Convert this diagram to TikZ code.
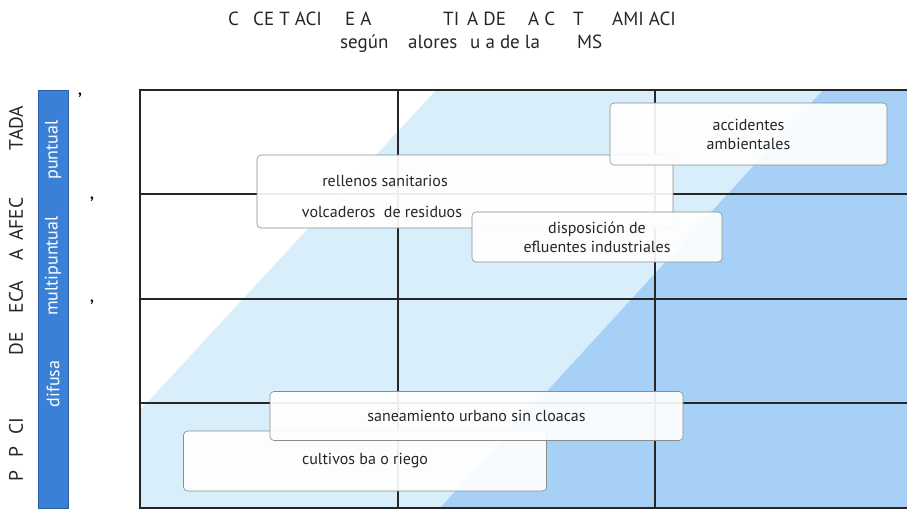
\documentclass[tikz,border=0pt]{standalone}
\usepackage{fontspec}
\setmainfont{PT Sans}
\usetikzlibrary{positioning}

\definecolor{celeste}{HTML}{D9EEFB}
\definecolor{azulclaro}{HTML}{A6D0F5}
\definecolor{azulbarra}{HTML}{3A80D6}
\definecolor{azulborde}{HTML}{2A5EA8}

\begin{document}
\begin{tikzpicture}[
    x=1pt, y=-1pt,
    font=\fontsize{16}{19}\selectfont,
    caja/.style={draw=black!45, fill=white, fill opacity=0.92, text opacity=1,
                 rounded corners=4pt, line width=0.6pt, inner sep=0pt,
                 align=center, text=black!85},
    txt/.style={anchor=base, inner sep=0pt, text=black!85},
    titulo/.style={font=\fontsize{19}{22}\selectfont, anchor=base west,
                   inner sep=0pt, text=black!85},
    eje/.style={font=\fontsize{19.5}{22}\selectfont, rotate=90, inner sep=0pt,
                text=black!85},
    tipo/.style={font=\fontsize{18}{20}\selectfont, rotate=90, text=white,
                 inner sep=0pt},
    marca/.style={font=\fontsize{22}{22}\selectfont, inner sep=0pt},
    rejilla/.style={line width=1.1pt, black!85}
  ]
  \useasboundingbox (0,0) rectangle (907,509);

  % --- Titulo ---
  \foreach \x/\s [count=\i] in {228/C, 253/CE T ACI, 345/E A, 443/TI,
                                467/A DE, 528/A C, 573/T, 612/AMI ACI}
    \node[titulo] (t\i) at (\x,25) {\s};
  \foreach \x/\s [count=\i] in {340/según, 408/alores, 470/u a de la, 577/MS}
    \node[titulo] (s\i) at (\x,48) {\s};

  % --- Fondo ---
  \begin{scope}
    \clip (140,90) rectangle (907,508);
    \fill[celeste] (140,90) rectangle (907,508);
    \fill[white] (140,90) -- (436,90) -- (140,410) -- cycle;
    \fill[azulclaro] (823,90) -- (907,90) -- (907,508) -- (440,508) -- cycle;
  \end{scope}

  % --- Rejilla ---
  \draw[rejilla] (907,90) -- (140,90) -- (140,508) -- (907,508);
  \foreach \y in {194,299,403}
    \draw[rejilla] (140,\y) -- (907,\y);
  \foreach \x in {398,655}
    \draw[rejilla] (\x,90) -- (\x,508);

  % --- Eje ---
  \foreach \y/\s [count=\i] in {476/P, 452/P, 426/CI, 344/DE, 297/ECA,
                                255/A, 219/AFEC, 128/TADA}
    \node[eje] (e\i) at (16,\y) {\s};
  \node[draw=azulborde, fill=azulbarra, minimum width=30pt,
        minimum height=418pt, inner sep=0pt] (barra) at (53,299) {};
  \node[tipo] (difusa) at (53,384) {difusa};
  \node[tipo] (multi) at (53,266) {multipuntual};
  \node[tipo] (puntual) at (53,150) {puntual};
  \node[marca] (m1) at (80,101) {’};
  \node[marca] (m2) at (92,205) {’};
  \node[marca] (m3) at (92,308) {’};

  % --- Fuentes ---
  \node[caja, minimum width=416pt, minimum height=73pt] (rellenos) at (465,191.5) {};
  \node[txt] (rs) at (385,186) {rellenos sanitarios};
  \node[txt] (vr) at (382,217) {volcaderos\ \ de residuos};
  \node[caja, minimum width=277pt, minimum height=62pt] (accid) at (748.5,134)
    {accidentes\\ambientales};
  \node[caja, minimum width=250pt, minimum height=50pt] (efluentes) at (597,237)
    {disposición de\\efluentes industriales};
  \node[caja, minimum width=363pt, minimum height=60pt] (cultivos) at (365,461)
    {cultivos ba o riego};
  \node[caja, minimum width=413pt, minimum height=49pt] (saneam) at (476.5,416)
    {saneamiento urbano sin cloacas};

\end{tikzpicture}
\end{document}
